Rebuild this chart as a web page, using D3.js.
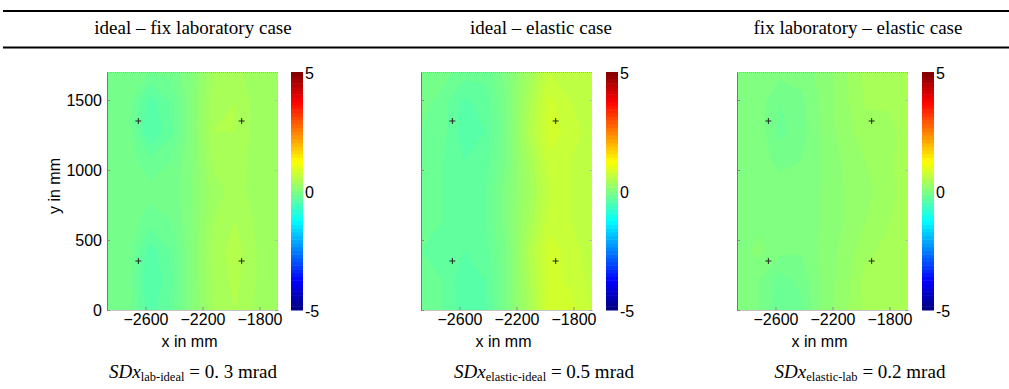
<!DOCTYPE html>
<html>
<head>
<meta charset="utf-8">
<script src="https://cdn.jsdelivr.net/npm/d3@7"></script>
<style>
  body { margin: 0; background: #fff; }
  svg { display: block; }
  .axis text { font-family: "Liberation Sans", Arial, sans-serif; font-size: 16px; fill: #000; }
  .serif { font-family: "Liberation Serif", "Times New Roman", serif; fill: #000; }
</style>
</head>
<body>
<div id="chart"></div>
<script>
// ---- data ----
const headers = ["ideal \u2013 fix laboratory case", "ideal \u2013 elastic case", "fix laboratory \u2013 elastic case"];
const sdSubs = ["lab-ideal", "elastic-ideal", "elastic-lab"];
const sdValues = ["0. 3", "0.5", "0.2"];

const xTicks = [-2600, -2200, -1800];
const yTicks = [0, 500, 1000, 1500];
const cTicks = [-5, 0, 5];

// sample grid (mm)
const xGrid = [-2870, -2720, -2570, -2420, -2270, -2120, -1970, -1820, -1670];
const yGrid = [0, 212.5, 425, 637.5, 850, 1062.5, 1275, 1487.5, 1700];

// sensor positions (crosses)
const markerX = [-2650, -1925];
const markerY = [1350, 350];

// difference in mrad, one array per x column, values from y=0 upward
const labIdeal = [
  [-0.08, -0.08, -0.08, -0.08, -0.08, -0.08, -0.08, -0.08, -0.08],
  [-0.12, -0.12, -0.11, -0.1, -0.1, -0.1, -0.12, -0.12, -0.1],
  [-0.4, -0.45, -0.4, -0.2, -0.12, -0.22, -0.45, -0.4, -0.15],
  [-0.25, -0.28, -0.25, -0.15, -0.12, -0.15, -0.28, -0.25, -0.12],
  [0.05, 0.05, 0.05, 0.05, 0.05, 0.05, 0.05, 0.05, 0.05],
  [0.35, 0.38, 0.4, 0.35, 0.3, 0.38, 0.45, 0.42, 0.35],
  [0.45, 0.48, 0.5, 0.45, 0.4, 0.42, 0.45, 0.45, 0.38],
  [0.32, 0.35, 0.35, 0.33, 0.3, 0.3, 0.3, 0.3, 0.3],
  [0.3, 0.3, 0.3, 0.3, 0.3, 0.3, 0.3, 0.3, 0.3]
];
const elasticIdeal = [
  [-0.15, -0.2, -0.25, -0.25, -0.2, -0.2, -0.15, -0.1, -0.05],
  [-0.25, -0.25, -0.3, -0.25, -0.25, -0.25, -0.2, -0.2, -0.1],
  [-0.4, -0.42, -0.35, -0.28, -0.28, -0.35, -0.42, -0.38, -0.2],
  [-0.38, -0.35, -0.3, -0.25, -0.25, -0.3, -0.35, -0.3, -0.22],
  [-0.05, -0.05, -0.05, 0, 0, -0.05, -0.05, -0.05, 0],
  [0.35, 0.4, 0.45, 0.35, 0.3, 0.35, 0.45, 0.4, 0.3],
  [0.82, 0.8, 0.82, 0.7, 0.65, 0.72, 0.82, 0.78, 0.65],
  [0.8, 0.72, 0.7, 0.65, 0.65, 0.65, 0.7, 0.65, 0.62],
  [0.65, 0.62, 0.6, 0.6, 0.6, 0.6, 0.6, 0.6, 0.6]
];
const elasticLab = [
  [0, 0, 0, 0, 0, 0, 0, 0, 0],
  [-0.05, -0.05, 0.08, 0.02, 0, 0, 0, 0, 0],
  [-0.22, -0.2, -0.02, 0, 0, -0.08, -0.18, -0.15, -0.02],
  [-0.18, -0.12, -0.04, 0, 0, -0.05, -0.1, -0.08, 0],
  [0.08, 0.08, 0.08, 0.06, 0.06, 0.06, 0.08, 0.08, 0.08],
  [0.22, 0.2, 0.18, 0.15, 0.15, 0.16, 0.2, 0.22, 0.22],
  [0.38, 0.38, 0.32, 0.25, 0.22, 0.25, 0.32, 0.36, 0.38],
  [0.42, 0.4, 0.38, 0.33, 0.3, 0.32, 0.28, 0.38, 0.42],
  [0.42, 0.42, 0.42, 0.42, 0.42, 0.42, 0.42, 0.42, 0.42]
];
const panelData = [labIdeal, elasticIdeal, elasticLab];

// ---- layout ----
const width = 1009, height = 389;
const plotLeft = [107, 421, 737];
const plotW = 171, plotTop = 72, plotBottom = 310;
const cbLeft = [291, 606, 922], cbW = 12;
const headerX = [193, 541, 858];
const sdX = [193, 544, 860];

// matlab-like jet colormap
function jet(t) {
  const c = v => Math.round(255 * Math.max(0, Math.min(1, 1.5 - Math.abs(4 * t - v))));
  return "rgb(" + c(3) + "," + c(2) + "," + c(1) + ")";
}
const color = d3.scaleSequential(jet).domain([-5, 5]);
const levels = d3.range(-10, 12).map(k => k * 0.1 - 0.05);

const svg = d3.select("#chart").append("svg")
  .attr("width", width)
  .attr("height", height);

// table rules
[11, 47.5].forEach(yy => {
  svg.append("line").attr("x1", 3).attr("x2", width).attr("y1", yy).attr("y2", yy)
    .attr("stroke", "#000").attr("stroke-width", 2);
});

svg.selectAll("text.header")
  .data(headers)
  .enter()
  .append("text")
  .attr("class", "serif header")
  .attr("x", (d, i) => headerX[i])
  .attr("y", 34)
  .attr("text-anchor", "middle")
  .style("font-size", "19px")
  .text(d => d);

panelData.forEach((cols, k) => {
  const x = d3.scaleLinear().domain([xGrid[0], xGrid[xGrid.length - 1]]).range([plotLeft[k], plotLeft[k] + plotW]);
  const y = d3.scaleLinear().domain([yGrid[0], yGrid[yGrid.length - 1]]).range([plotBottom, plotTop]);
  const dx = xGrid[1] - xGrid[0], dy = yGrid[1] - yGrid[0];

  const g = svg.append("g");
  g.append("clipPath").attr("id", "clip" + k)
    .append("rect")
    .attr("x", plotLeft[k]).attr("y", plotTop)
    .attr("width", plotW).attr("height", plotBottom - plotTop);

  // flatten grid: x index fastest
  const values = [];
  yGrid.forEach((yy, j) => xGrid.forEach((xx, i) => values.push(cols[i][j])));

  const contours = d3.contours()
    .size([xGrid.length, yGrid.length])
    .thresholds(levels)(values);

  const proj = d3.geoTransform({
    point: function (cx, cy) {
      this.stream.point(x(xGrid[0] + (cx - 0.5) * dx), y(yGrid[0] + (cy - 0.5) * dy));
    }
  });
  const path = d3.geoPath(proj);

  g.append("g").attr("clip-path", "url(#clip" + k + ")")
    .selectAll("path")
    .data(contours)
    .enter()
    .append("path")
    .attr("d", path)
    .attr("fill", d => color(d.value + 0.05))
    .attr("stroke", d => color(d.value + 0.05))
    .attr("stroke-width", 0.3);

  // box: top faint dotted
  g.append("line")
    .attr("x1", plotLeft[k]).attr("x2", plotLeft[k] + plotW)
    .attr("y1", plotTop + 0.5).attr("y2", plotTop + 0.5)
    .attr("stroke", "#aaa").attr("stroke-dasharray", "1,1");

  // axes
  const yAxis = g.append("g").attr("class", "axis")
    .attr("transform", "translate(" + plotLeft[k] + ",0)")
    .call(d3.axisLeft(y).tickValues(yTicks).tickSizeInner(-3).tickSizeOuter(0).tickPadding(5)
      .tickFormat(k === 0 ? d3.format("d") : ""));
  yAxis.select(".domain").attr("stroke", "#777");
  yAxis.selectAll(".tick line").attr("stroke", "#888");

  const rAxis = g.append("g").attr("class", "axis")
    .attr("transform", "translate(" + (plotLeft[k] + plotW) + ",0)")
    .call(d3.axisRight(y).tickValues(yTicks).tickSizeInner(-3).tickSizeOuter(0).tickFormat(""));
  rAxis.select(".domain").remove();
  rAxis.selectAll(".tick line").attr("stroke", "#bbb");

  const xAxis = g.append("g").attr("class", "axis")
    .attr("transform", "translate(0," + plotBottom + ")")
    .call(d3.axisBottom(x).tickValues(xTicks).tickSizeInner(-3).tickSizeOuter(0).tickPadding(4)
      .tickFormat(d3.format("d")));
  xAxis.select(".domain").attr("stroke", "#888").attr("stroke-dasharray", "1,1");
  xAxis.selectAll(".tick line").attr("stroke", "#888");

  // crosses
  markerX.forEach(mx => markerY.forEach(my => {
    g.append("path")
      .attr("d", "M" + (x(mx) - 3) + "," + y(my) + "H" + (x(mx) + 3) +
                 "M" + x(mx) + "," + (y(my) - 3) + "V" + (y(my) + 3))
      .attr("stroke", "#222").attr("stroke-width", 1);
  }));

  // colorbar
  const cy = d3.scaleLinear().domain([-5, 5]).range([plotBottom, plotTop]);
  const steps = d3.range(64).map(i => -5 + (i + 0.5) * 10 / 64);
  g.append("g").selectAll("rect")
    .data(steps)
    .enter()
    .append("rect")
    .attr("x", cbLeft[k])
    .attr("y", d => cy(d + 5 / 64))
    .attr("width", cbW)
    .attr("height", Math.abs(cy(0) - cy(10 / 64)) + 0.5)
    .attr("fill", d => color(d));
  g.append("g").attr("class", "axis")
    .selectAll("text")
    .data(cTicks)
    .enter()
    .append("text")
    .attr("x", cbLeft[k] + cbW + 2)
    .attr("y", d => cy(d) + 1.5)
    .attr("dominant-baseline", "central")
    .text(d => d);

  // axis titles
  g.append("text").attr("class", "axis")
    .attr("x", plotLeft[k] + plotW / 2 - 3)
    .attr("y", 347)
    .attr("text-anchor", "middle")
    .style("font-family", "'Liberation Sans', Arial, sans-serif")
    .style("font-size", "16px")
    .text("x in mm");

  // SD annotation
  const t = g.append("text").attr("class", "serif")
    .attr("x", sdX[k]).attr("y", 378)
    .attr("text-anchor", "middle")
    .style("font-size", "19px");
  t.append("tspan").style("font-style", "italic").text("SDx");
  t.append("tspan").style("font-size", "12.5px").attr("dy", 3).text(sdSubs[k]);
  t.append("tspan").attr("dy", -3).text(" = " + sdValues[k] + " mrad");
});

svg.append("text")
  .attr("transform", "translate(60,186) rotate(-90)")
  .attr("text-anchor", "middle")
  .style("font-family", "'Liberation Sans', Arial, sans-serif")
  .style("font-size", "16px")
  .text("y in mm");
</script>
</body>
</html>
